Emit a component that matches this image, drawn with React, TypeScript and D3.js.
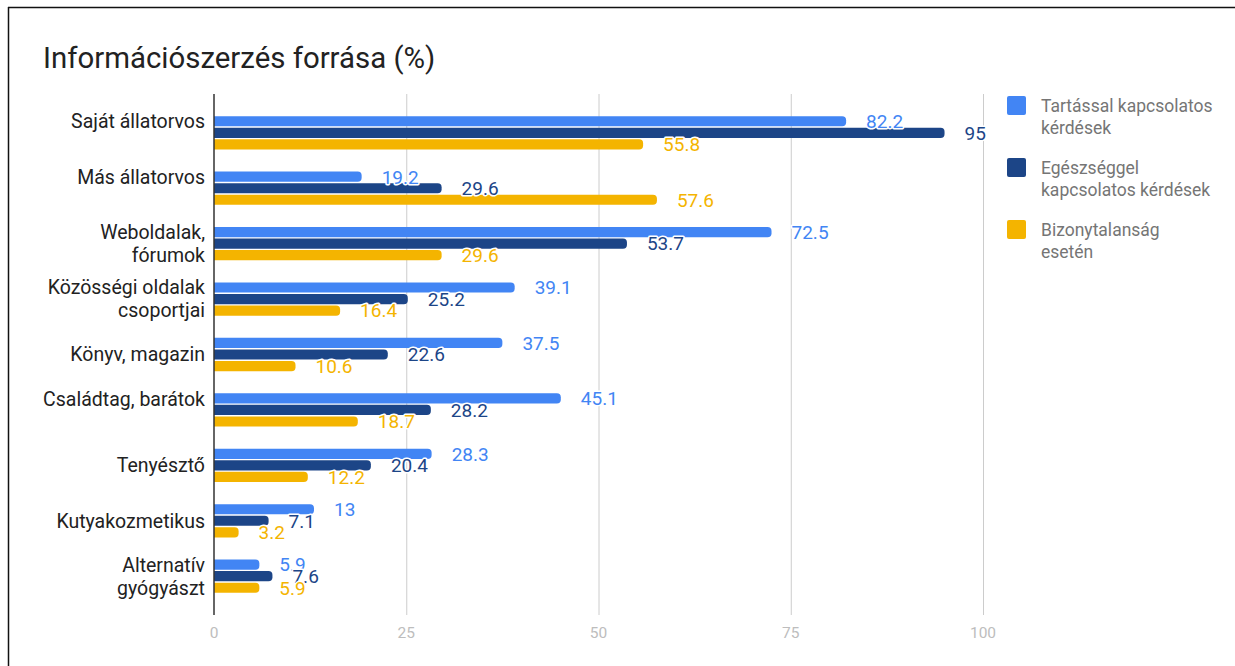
import * as d3 from 'd3';
import { useEffect, useRef } from 'react';

const categories = [
  'Saját állatorvos',
  'Más állatorvos',
  'Weboldalak,\nfórumok',
  'Közösségi oldalak\ncsoportjai',
  'Könyv, magazin',
  'Családtag, barátok',
  'Tenyésztő',
  'Kutyakozmetikus',
  'Alternatív\ngyógyászt',
];

const seriesNames = [
  'Tartással kapcsolatos\nkérdések',
  'Egészséggel\nkapcsolatos kérdések',
  'Bizonytalanság\nesetén',
];

const tartas = [82.2, 19.2, 72.5, 39.1, 37.5, 45.1, 28.3, 13, 5.9];
const egeszseg = [95, 29.6, 53.7, 25.2, 22.6, 28.2, 20.4, 7.1, 7.6];
const bizonytalan = [55.8, 57.6, 29.6, 16.4, 10.6, 18.7, 12.2, 3.2, 5.9];

const xTicks = [0, 25, 50, 75, 100];

const colors = ['#4285f4', '#1c4587', '#f4b400'];
// google charts nudges some category labels upwards
const labelShift = [-12, -11, 0, 0, 0, -11, 0, 0, 0];

const W = 1235;
const H = 666;
const FONT = 'Roboto, "Noto Sans", sans-serif';

export default function App() {
  const ref = useRef<SVGSVGElement>(null);

  useEffect(() => {
    const svg = d3.select(ref.current);
    svg.selectAll('*').remove();

    const series = [tartas, egeszseg, bizonytalan];

    // frame
    svg.append('line').attr('x1', 8).attr('x2', W).attr('y1', 7.5).attr('y2', 7.5)
      .attr('stroke', '#111').attr('stroke-width', 1.5);
    svg.append('line').attr('x1', 8.5).attr('x2', 8.5).attr('y1', 7).attr('y2', H)
      .attr('stroke', '#111').attr('stroke-width', 1.5);

    svg.append('text')
      .attr('x', 43).attr('y', 68)
      .attr('font-family', FONT).attr('font-size', 29.4).attr('fill', '#222')
      .text('Információszerzés forrása (%)');

    const x = d3.scaleLinear().domain([0, 100]).range([214, 983]);
    const y = d3.scaleBand<number>()
      .domain(d3.range(categories.length))
      .range([94, 615])
      .paddingInner(0.4)
      .paddingOuter(0.4);
    const ys = d3.scaleBand<number>()
      .domain([0, 1, 2])
      .range([0, y.bandwidth()])
      .paddingInner(0.12);

    // grid
    svg.append('g').selectAll('line').data(xTicks.slice(1)).enter().append('line')
      .attr('x1', (d) => x(d) + 0.5).attr('x2', (d) => x(d) + 0.5)
      .attr('y1', 94).attr('y2', 615)
      .attr('stroke', '#cccccc').attr('stroke-width', 1);

    svg.append('g').selectAll('text').data(xTicks).enter().append('text')
      .attr('x', (d) => x(d)).attr('y', 633).attr('dy', '0.35em')
      .attr('text-anchor', 'middle')
      .attr('font-family', FONT).attr('font-size', 15.5).attr('fill', '#bdbdbd')
      .text((d) => d);

    const barPath = (x0: number, x1: number, y0: number, h: number) => {
      const r = Math.min(4, (x1 - x0) / 2, h / 2);
      return `M${x0},${y0}H${x1 - r}Q${x1},${y0} ${x1},${y0 + r}V${y0 + h - r}Q${x1},${y0 + h} ${x1 - r},${y0 + h}H${x0}Z`;
    };

    const groups = svg.append('g');
    series.forEach((vals, si) => {
      groups.append('g').selectAll('path').data(vals).enter().append('path')
        .attr('d', (d, i) => barPath(x(0), x(d), (y(i) || 0) + (ys(si) || 0), ys.bandwidth()))
        .attr('fill', colors[si]);
    });

    // axis line
    svg.append('line').attr('x1', x(0)).attr('x2', x(0)).attr('y1', 94).attr('y2', 615)
      .attr('stroke', '#333').attr('stroke-width', 1.5);

    // value labels
    series.forEach((vals, si) => {
      svg.append('g').selectAll('text').data(vals).enter().append('text')
        .attr('x', (d) => x(d) + 20)
        .attr('y', (d, i) => (y(i) || 0) + (ys(si) || 0) + ys.bandwidth() / 2)
        .attr('dy', '0.36em')
        .attr('font-family', FONT).attr('font-size', 19)
        .attr('fill', colors[si])
        .attr('stroke', '#fff').attr('stroke-width', 3).attr('stroke-linejoin', 'round')
        .attr('paint-order', 'stroke')
        .text((d) => d);
    });

    // category labels
    categories.forEach((c, i) => {
      const lines = c.split('\n');
      const cy = (y(i) || 0) + y.bandwidth() / 2 + labelShift[i];
      const lh = 23;
      const t = svg.append('text')
        .attr('text-anchor', 'end')
        .attr('font-family', FONT).attr('font-size', 19.5).attr('fill', '#222');
      lines.forEach((ln, k) => {
        t.append('tspan').attr('x', 205)
          .attr('y', cy + (k - (lines.length - 1) / 2) * lh)
          .attr('dy', '0.35em').text(ln);
      });
    });

    // legend
    seriesNames.forEach((s, si) => {
      const top = 96 + si * 62;
      svg.append('rect').attr('x', 1007).attr('y', top).attr('width', 19).attr('height', 19)
        .attr('rx', 2).attr('fill', colors[si]);
      const t = svg.append('text')
        .attr('font-family', FONT).attr('font-size', 17.5).attr('fill', '#757575');
      s.split('\n').forEach((ln, k) => {
        t.append('tspan').attr('x', 1041).attr('y', top + 10 + k * 22)
          .attr('dy', '0.35em').text(ln);
      });
    });
  }, []);

  return (
    <svg ref={ref} width={W} height={H}
      style={{ position: 'absolute', left: 0, top: 0, background: '#fff' }} />
  );
}
